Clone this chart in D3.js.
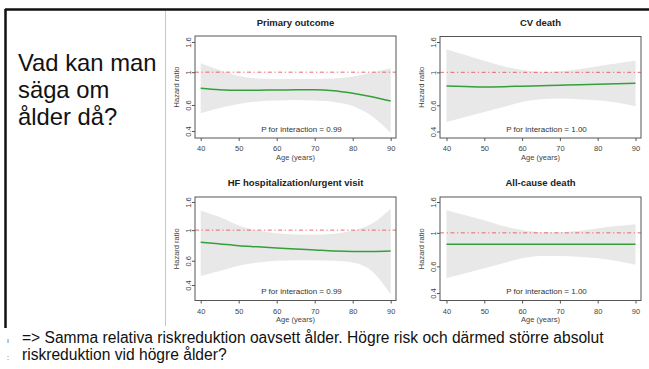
<!DOCTYPE html>
<html>
<head>
<meta charset="utf-8">
<script src="https://cdn.jsdelivr.net/npm/d3@7"></script>
<style>
  html, body { margin: 0; padding: 0; background: #fff; }
  svg { display: block; font-family: "Liberation Sans", Arial, sans-serif; }
</style>
</head>
<body>
<script>
const ages = [40, 45, 50, 55, 60, 65, 70, 75, 80, 85, 90];
const xTicks = [40, 50, 60, 70, 80, 90];
const yTicks = [0.4, 0.6, 1, 1.6];

// hazard ratio + confidence band per outcome
const primaryHR = [0.778, 0.760, 0.754, 0.755, 0.758, 0.760, 0.761, 0.750, 0.720, 0.683, 0.639];
const primaryLo = [0.527, 0.572, 0.609, 0.634, 0.643, 0.649, 0.643, 0.629, 0.590, 0.505, 0.388];
const primaryHi = [1.149, 1.035, 0.943, 0.907, 0.900, 0.900, 0.900, 0.907, 0.935, 0.990, 1.063];

const cvHR = [0.810, 0.804, 0.798, 0.801, 0.807, 0.813, 0.819, 0.825, 0.832, 0.838, 0.845];
const cvLo = [0.463, 0.500, 0.541, 0.584, 0.632, 0.659, 0.666, 0.659, 0.649, 0.626, 0.591];
const cvHi = [1.429, 1.307, 1.196, 1.101, 1.035, 1.008, 1.019, 1.051, 1.101, 1.149, 1.196];

const hfHR = [0.816, 0.794, 0.772, 0.757, 0.742, 0.730, 0.718, 0.706, 0.701, 0.701, 0.706];
const hfLo = [0.465, 0.506, 0.551, 0.582, 0.599, 0.606, 0.606, 0.599, 0.582, 0.506, 0.342];
const hfHi = [1.391, 1.243, 1.081, 0.993, 0.949, 0.929, 0.924, 0.940, 0.993, 1.112, 1.432];

const allHR = [0.840, 0.840, 0.840, 0.840, 0.840, 0.840, 0.840, 0.840, 0.840, 0.840, 0.840];
const allLo = [0.502, 0.541, 0.584, 0.630, 0.679, 0.703, 0.703, 0.696, 0.679, 0.652, 0.614];
const allHi = [1.411, 1.308, 1.213, 1.108, 1.043, 1.011, 1.011, 1.032, 1.070, 1.108, 1.142];

const titles = ["Primary outcome", "CV death", "HF hospitalization/urgent visit", "All-cause death"];
const pValues = ["0.99", "1.00", "0.99", "1.00"];

const W = 649, H = 369;
const svg = d3.select("body").append("svg").attr("width", W).attr("height", H);

// slide frame
svg.append("line").attr("x1", 5).attr("x2", W).attr("y1", 9.5).attr("y2", 9.5)
  .attr("stroke", "#111").attr("stroke-width", 2.5);
svg.append("line").attr("x1", 5.5).attr("x2", 5.5).attr("y1", 9).attr("y2", 328)
  .attr("stroke", "#111").attr("stroke-width", 2.5);
// pasted figure edge
svg.append("line").attr("x1", 165.5).attr("x2", 165.5).attr("y1", 11).attr("y2", 326)
  .attr("stroke", "#c8c8c8").attr("stroke-width", 1);

// left heading
const head = svg.append("text").attr("font-size", 23.8).attr("fill", "#111");
["Vad kan man", "säga om", "ålder då?"].forEach((t, i) => {
  head.append("tspan").attr("x", 18).attr("y", 71 + i * 27.2).text(t);
});

// bottom remark
const remark = svg.append("text").attr("font-size", 15.6).attr("fill", "#111");
remark.append("tspan").attr("x", 22).attr("y", 342.5)
  .text("=> Samma relativa riskreduktion oavsett ålder. Högre risk och därmed större absolut");
remark.append("tspan").attr("x", 22).attr("y", 360).text("riskreduktion vid högre ålder?");
svg.append("text").attr("x", 7).attr("y", 343).attr("font-size", 7).attr("fill", "#444").text("ı");
svg.append("text").attr("x", 7).attr("y", 360).attr("font-size", 7).attr("fill", "#444").text(":");

// panel layout
const panels = [
  { box: [195, 396, 36, 138], xr: [200.7, 390.7], yr: [131, 42], ty: 23, hr: primaryHR, lo: primaryLo, hi: primaryHi },
  { box: [440, 641, 36.5, 138], xr: [446.5, 635.5], yr: [131.5, 42], ty: 23, hr: cvHR, lo: cvLo, hi: cvHi },
  { box: [195, 396, 197, 300.5], xr: [200.7, 390.7], yr: [285, 202], ty: 183, hr: hfHR, lo: hfLo, hi: hfHi },
  { box: [440, 641, 197, 300.5], xr: [446.5, 635.5], yr: [293, 202], ty: 183, hr: allHR, lo: allLo, hi: allHi }
];

panels.forEach((p, i) => {
  const [bx0, bx1, by0, by1] = p.box;
  const x = d3.scaleLinear().domain([40, 90]).range(p.xr);
  const y = d3.scaleLog().domain([0.4, 1.6]).range(p.yr);
  const g = svg.append("g");
  const cx = (bx0 + bx1) / 2;

  g.append("text").attr("x", cx).attr("y", p.ty + 3.3).attr("text-anchor", "middle")
    .attr("font-size", 9.5).attr("font-weight", "bold").attr("fill", "#222").text(titles[i]);

  const rows = ages.map((a, k) => ({ a, hr: p.hr[k], lo: p.lo[k], hi: p.hi[k] }));

  g.append("path").datum(rows)
    .attr("fill", "#e8e8e8")
    .attr("d", d3.area().curve(d3.curveMonotoneX)
      .x(d => x(d.a)).y0(d => y(d.lo)).y1(d => y(d.hi)));

  g.append("line").attr("x1", bx0).attr("x2", bx1).attr("y1", y(1)).attr("y2", y(1))
    .attr("stroke", "#e8505a").attr("stroke-width", 1).attr("stroke-opacity", 0.85)
    .attr("stroke-dasharray", "4,2.6,1.2,2.6");

  g.append("path").datum(rows)
    .attr("fill", "none").attr("stroke", "#34a03a").attr("stroke-width", 1.5)
    .attr("d", d3.line().curve(d3.curveMonotoneX).x(d => x(d.a)).y(d => y(d.hr)));

  g.append("rect").attr("x", bx0).attr("y", by0).attr("width", bx1 - bx0).attr("height", by1 - by0)
    .attr("fill", "none").attr("stroke", "#555").attr("stroke-width", 1);

  // x axis
  const xa = g.append("g").attr("transform", `translate(0,${by1})`)
    .call(d3.axisBottom(x).tickValues(xTicks).tickSize(3).tickPadding(5).tickFormat(d3.format("d")));
  xa.select(".domain").remove();
  xa.selectAll("line").attr("stroke", "#555");
  xa.selectAll("text").attr("font-size", 7.5).attr("fill", "#444").attr("font-family", "Liberation Sans, Arial, sans-serif");

  g.append("text").attr("x", cx).attr("y", by1 + 21.5).attr("text-anchor", "middle")
    .attr("font-size", 7.5).attr("fill", "#444").text("Age (years)");

  // y axis
  const ya = g.append("g").attr("transform", `translate(${bx0},0)`)
    .call(d3.axisLeft(y).tickValues(yTicks).tickSize(3).tickFormat(d => String(d)));
  ya.select(".domain").remove();
  ya.selectAll("line").attr("stroke", "#555");
  ya.selectAll("text")
    .attr("x", null).attr("dy", null)
    .attr("text-anchor", "middle")
    .attr("transform", "translate(-4.5,0) rotate(-90)")
    .attr("font-size", 7.5).attr("fill", "#444").attr("font-family", "Liberation Sans, Arial, sans-serif");

  g.append("text").attr("transform", `translate(${bx0 - 16.5},${(by0 + by1) / 2}) rotate(-90)`)
    .attr("text-anchor", "middle").attr("font-size", 7.5).attr("fill", "#444").text("Hazard ratio");

  g.append("text").attr("x", cx + 6).attr("y", by1 - 6.5).attr("text-anchor", "middle")
    .attr("font-size", 8).attr("fill", "#333").text("P for interaction = " + pValues[i]);
});
</script>
</body>
</html>
